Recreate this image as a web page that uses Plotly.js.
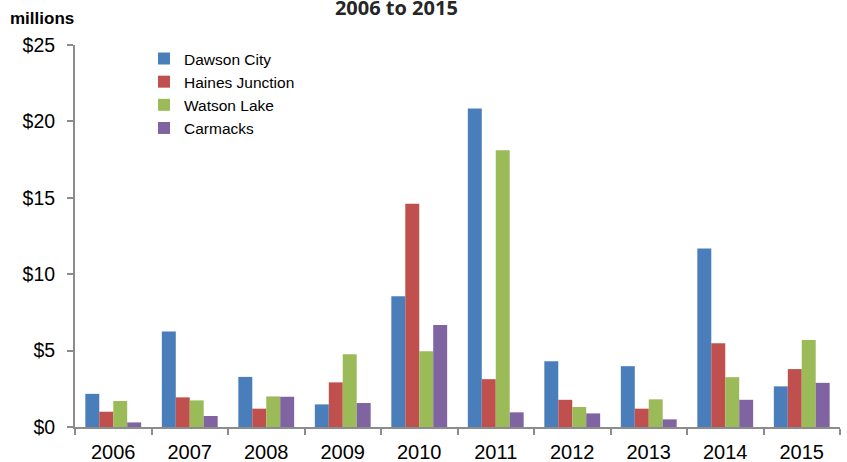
<!DOCTYPE html>
<html>
<head>
<meta charset="utf-8">
<script src="https://cdn.plot.ly/plotly-3.0.1.min.js"></script>
<style>html,body{margin:0;padding:0;background:#fff;}#chart{width:847px;height:462px;}</style>
</head>
<body>
<div id="chart"></div>
<script>
const years = ['2006','2007','2008','2009','2010','2011','2012','2013','2014','2015'];
const dawsonCity = [2.17, 6.25, 3.28, 1.48, 8.56, 20.85, 4.31, 3.98, 11.68, 2.66];
const hainesJunction = [1.00, 1.94, 1.20, 2.92, 14.61, 3.13, 1.78, 1.20, 5.48, 3.79];
const watsonLake = [1.70, 1.74, 2.00, 4.76, 4.96, 18.11, 1.31, 1.81, 3.26, 5.70];
const carmacks = [0.30, 0.72, 1.98, 1.57, 6.68, 0.96, 0.89, 0.50, 1.78, 2.89];
const seriesNames = ['Dawson City','Haines Junction','Watson Lake','Carmacks'];
const seriesColors = ['#4a7ebb','#c0504d','#9bbb59','#8064a2'];
const yTickVals = [0,5,10,15,20,25];
const yTickText = ['$0','$5','$10','$15','$20','$25'];

const allSeries = [dawsonCity, hainesJunction, watsonLake, carmacks];
const data = allSeries.map((vals, i) => ({
  type: 'bar',
  x: years,
  y: vals,
  name: seriesNames[i],
  marker: {color: seriesColors[i], line: {width: 0}},
  hoverinfo: 'x+y+name'
}));

const layout = {
  width: 847, height: 462,
  margin: {l: 75, r: 7, t: 45, b: 35, pad: 0},
  paper_bgcolor: '#fff', plot_bgcolor: '#fff',
  barmode: 'group', bargap: 0.27, bargroupgap: 0,
  font: {family: 'Liberation Sans, Arial, sans-serif', color: '#000'},
  title: {
    text: '<b>2006 to 2015</b>',
    font: {family: 'Open Sans, sans-serif', size: 20, color: '#262626'},
    x: 0.468, xanchor: 'center', xref: 'container',
    y: 0.983, yanchor: 'middle', yref: 'container'
  },
  xaxis: {
    type: 'category',
    tickson: 'boundaries', ticks: 'outside', ticklen: 6, tickwidth: 2, tickcolor: '#8c8c8c',
    showline: true, linecolor: '#8c8c8c', linewidth: 2,
    showgrid: false, zeroline: false,
    tickfont: {size: 20, color: '#000'}, ticklabelstandoff: 6
  },
  yaxis: {
    range: [0, 25], tickvals: yTickVals, ticktext: yTickText,
    ticks: 'outside', ticklen: 6, tickwidth: 2, tickcolor: '#8c8c8c',
    showline: true, linecolor: '#8c8c8c', linewidth: 2,
    showgrid: false, zeroline: false,
    tickfont: {size: 19.5, color: '#000'}, ticklabelstandoff: 8
  },
  legend: {
    x: 0.0902, xanchor: 'left', y: 1.008, yanchor: 'top',
    font: {size: 15.5, color: '#000'}, bgcolor: 'rgba(0,0,0,0)',
    itemwidth: 30, traceorder: 'normal'
  },
  showlegend: true,
  annotations: [{
    text: '<b>millions</b>', xref: 'paper', yref: 'paper',
    x: -67/765, y: 1 + 27/382.3, xanchor: 'left', yanchor: 'middle',
    showarrow: false, font: {size: 17, color: '#000'}
  }]
};

Plotly.newPlot('chart', data, layout, {displayModeBar: false, staticPlot: true});
</script>
</body>
</html>
